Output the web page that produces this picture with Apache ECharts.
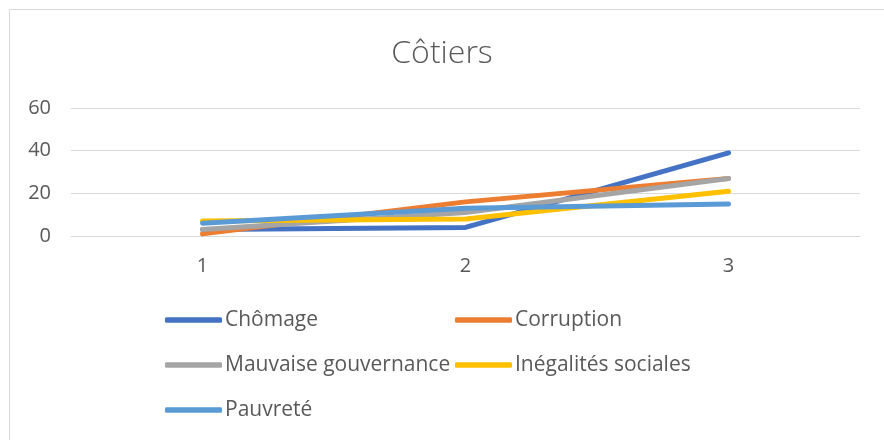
<!DOCTYPE html>
<html>
<head>
<meta charset="utf-8">
<script src="https://cdn.jsdelivr.net/npm/echarts@6/dist/echarts.min.js"></script>
<style>
  html, body { margin: 0; padding: 0; background: #fff; }
  #chart { width: 884px; height: 440px; }
</style>
</head>
<body>
<div id="chart"></div>
<script>
// Categories and series values
var categories = ['1', '2', '3'];
var chomage = [3, 4, 39];
var corruption = [1, 16, 27];
var mauvaiseGouvernance = [3, 11, 27];
var inegalitesSociales = [7, 8, 21];
var pauvrete = [6, 13, 15];

var seriesNames = ['Chômage', 'Corruption', 'Mauvaise gouvernance', 'Inégalités sociales', 'Pauvreté'];
var seriesData = [chomage, corruption, mauvaiseGouvernance, inegalitesSociales, pauvrete];
var colors = ['#4472C4', '#ED7D31', '#A5A5A5', '#FFC000', '#5B9BD5'];

var FONT = '"Open Sans", "Liberation Sans", sans-serif';
var TEXT = '#595959';

// one legend per entry, laid out in two columns
var LEGEND_FONT = 21;
var legendPos = [
  [165, 320], [455, 320],
  [165, 365], [455, 365],
  [165, 410]
];
var legends = seriesNames.map(function (name, i) {
  return {
    data: [name],
    left: legendPos[i][0],
    top: legendPos[i][1] - LEGEND_FONT / 2,
    icon: 'roundRect',
    itemWidth: 57,
    itemHeight: 5.5,
    padding: 0,
    textStyle: { color: TEXT, fontSize: LEGEND_FONT, fontFamily: FONT, padding: [0, 0, 0, -2] }
  };
});

var chart = echarts.init(document.getElementById('chart'), null, { renderer: 'canvas' });
chart.setOption({
  animation: false,
  color: colors,
  title: {
    text: 'Côtiers',
    left: 'center',
    top: 33,
    textStyle: { color: TEXT, fontSize: 32, fontWeight: 300, fontFamily: FONT }
  },
  graphic: [{
    type: 'rect',
    shape: { x: 9.5, y: 9.5, width: 890, height: 440 },
    style: { fill: 'none', stroke: '#D9D9D9', lineWidth: 1 },
    silent: true
  }],
  legend: legends,
  grid: { left: 71, right: 24, top: 108, height: 128, containLabel: false },
  xAxis: {
    type: 'category',
    data: categories,
    boundaryGap: true,
    axisLine: { lineStyle: { color: '#D9D9D9', width: 1 } },
    axisTick: { show: false },
    axisLabel: { color: TEXT, fontSize: 20, fontFamily: FONT, margin: 20 }
  },
  yAxis: {
    type: 'value',
    min: 0,
    max: 60,
    interval: 20,
    axisLine: { show: false },
    axisTick: { show: false },
    splitLine: { lineStyle: { color: '#D9D9D9', width: 1 } },
    axisLabel: { color: TEXT, fontSize: 20, fontFamily: FONT, margin: 20 }
  },
  series: seriesNames.map(function (name, i) {
    return {
      name: name,
      type: 'line',
      data: seriesData[i],
      showSymbol: false,
      symbol: 'none',
      lineStyle: { width: 5, color: colors[i], cap: 'round', join: 'round' },
      itemStyle: { color: colors[i] }
    };
  })
});
</script>
</body>
</html>
